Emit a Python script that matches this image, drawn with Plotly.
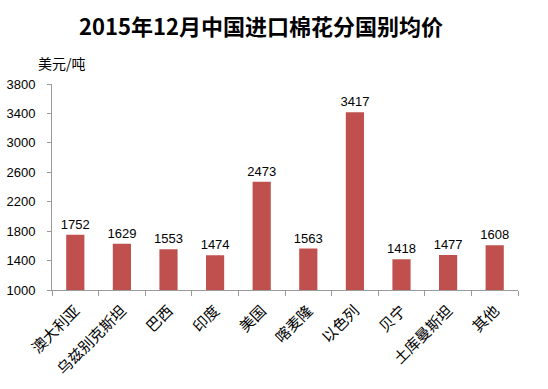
import plotly.graph_objects as go

categories = ["澳大利亚", "乌兹别克斯坦", "巴西", "印度", "美国", "喀麦隆", "以色列", "贝宁", "土库曼斯坦", "其他"]
values = [1752, 1629, 1553, 1474, 2473, 1563, 3417, 1418, 1477, 1608]
y_ticks = [1000, 1400, 1800, 2200, 2600, 3000, 3400, 3800]

fig = go.Figure(go.Bar(
    x=categories, y=values,
    marker=dict(color="#C0504D", line=dict(width=0)),
    text=[str(v) for v in values], textposition="outside",
    constraintext="none",
    textfont=dict(family="Liberation Sans, Arial", size=13, color="#000"),
    cliponaxis=False,
))

fig.update_layout(
    width=548, height=389,
    margin=dict(l=52, r=30, t=84, b=99),
    paper_bgcolor="white", plot_bgcolor="white",
    bargap=0.61,
    showlegend=False,
    title=dict(text="<b>2015年12月中国进口棉花分国别均价</b>", x=261 / 548, xanchor="center",
               y=1 - 27 / 389, yanchor="middle",
               font=dict(family="Noto Sans CJK SC", size=22, color="#000")),
    font=dict(family="Noto Sans CJK SC", color="#000"),
    annotations=[dict(text="美元/吨", xref="paper", yref="paper", x=-0.035, y=1.1,
                      xanchor="left", yanchor="middle", showarrow=False,
                      font=dict(family="Noto Sans CJK SC", size=14, color="#000"))],
)
fig.update_xaxes(showline=True, linecolor="#9a9a9a", linewidth=1,
                 ticks="outside", ticklen=5, tickcolor="#9a9a9a",
                 tickson="boundaries", tickangle=-45, ticklabelstandoff=5,
                 tickfont=dict(family="Noto Sans CJK SC", size=15, color="#000"),
                 showgrid=False, automargin=False)
fig.update_yaxes(range=[1000, 3800], tickvals=y_ticks, showline=True, linecolor="#9a9a9a",
                 linewidth=1, ticks="outside", ticklen=4, tickcolor="#9a9a9a",
                 ticklabelstandoff=9,
                 tickfont=dict(family="Liberation Sans, Arial", size=13, color="#000"),
                 showgrid=False, zeroline=False, automargin=False)

fig.write_html("out.html", config={"displayModeBar": False},
               post_script="document.body.style.margin='0';")
